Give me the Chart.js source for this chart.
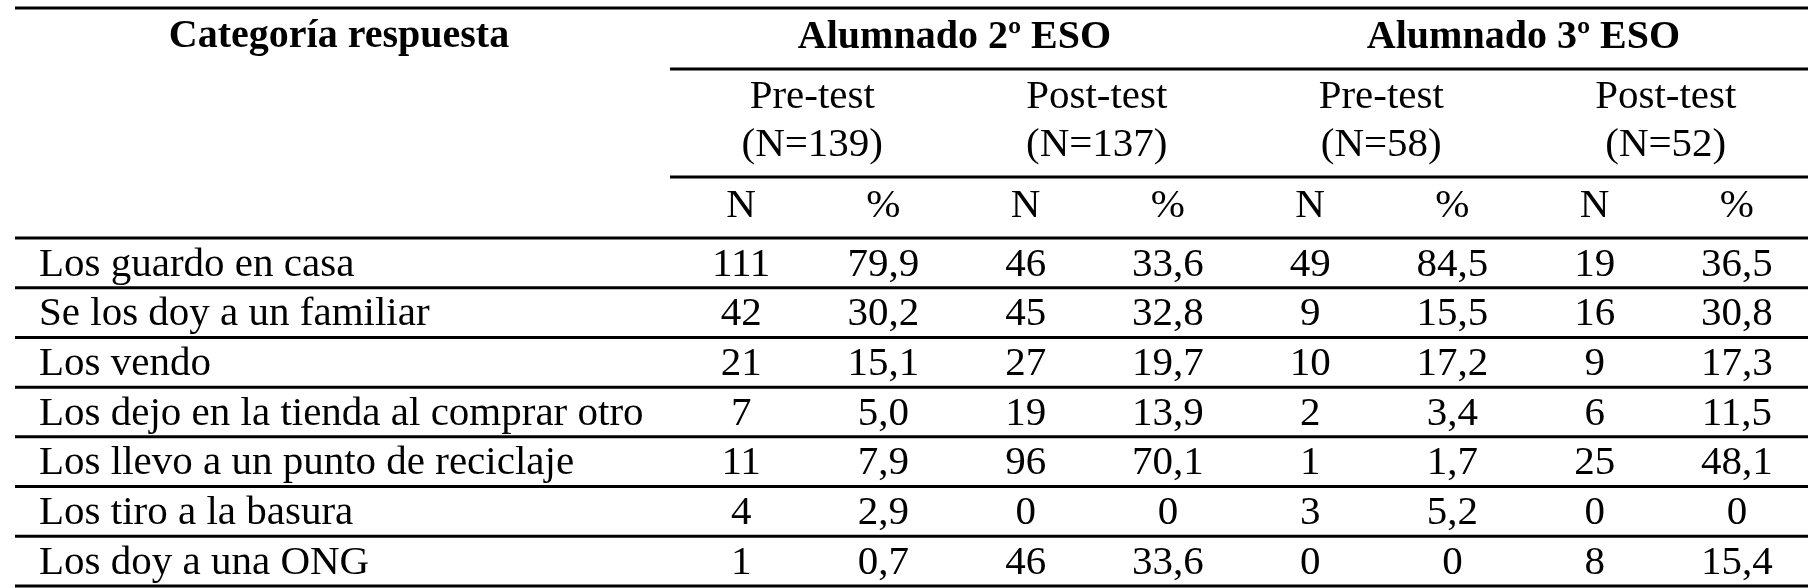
<!DOCTYPE html>
<html>
<head>
<meta charset="utf-8">
<script src="https://cdn.jsdelivr.net/npm/chart.js@4"></script>
<style>
  body { margin: 0; background: #fff; }
  #wrap { width: 1814px; height: 588px; }
</style>
</head>
<body>
<div id="wrap"><canvas id="tabla"></canvas></div>
<script>
const categorias = [
  "Los guardo en casa",
  "Se los doy a un familiar",
  "Los vendo",
  "Los dejo en la tienda al comprar otro",
  "Los llevo a un punto de reciclaje",
  "Los tiro a la basura",
  "Los doy a una ONG"
];
const grupos = ["Alumnado 2º ESO", "Alumnado 3º ESO"];
const fases = ["Pre-test", "Post-test", "Pre-test", "Post-test"];
const tamanos = ["(N=139)", "(N=137)", "(N=58)", "(N=52)"];

const pre2N = [111, 42, 21, 7, 11, 4, 1];
const pre2P = [79.9, 30.2, 15.1, 5.0, 7.9, 2.9, 0.7];
const post2N = [46, 45, 27, 19, 96, 0, 46];
const post2P = [33.6, 32.8, 19.7, 13.9, 70.1, 0, 33.6];
const pre3N = [49, 9, 10, 2, 1, 3, 0];
const pre3P = [84.5, 15.5, 17.2, 3.4, 1.7, 5.2, 0];
const post3N = [19, 16, 9, 6, 25, 0, 8];
const post3P = [36.5, 30.8, 17.3, 11.5, 48.1, 0, 15.4];

const columnas = [pre2N, pre2P, post2N, post2P, pre3N, pre3P, post3N, post3P];

const serif = '"Liberation Serif", "DejaVu Serif", serif';

function fmt(v, esPct) {
  if (!esPct || v === 0) return String(v);
  return v.toFixed(1).replace(".", ",");
}

const tablaPlugin = {
  id: "tabla",
  afterDraw(chart) {
    const ctx = chart.ctx;
    const x = chart.scales.x;
    const y = chart.scales.y;
    const area = chart.chartArea;
    const left = 15, right = 1808;
    const half = (x.getPixelForValue(1) - x.getPixelForValue(0)) / 2;
    const rowH = y.getPixelForValue(1) - y.getPixelForValue(0);

    ctx.save();
    ctx.fillStyle = "#000";
    ctx.strokeStyle = "#000";
    ctx.lineWidth = 3;
    const hline = (x1, x2, yy) => {
      ctx.beginPath(); ctx.moveTo(x1, yy); ctx.lineTo(x2, yy); ctx.stroke();
    };

    // header lines
    hline(left, right, 8);
    hline(x.getPixelForValue(0) - half, right, 69);
    hline(x.getPixelForValue(0) - half, right, 177);
    hline(left, right, area.top);

    ctx.textBaseline = "middle";
    ctx.textAlign = "center";
    ctx.font = "bold 40px " + serif;
    ctx.fillText("Categoría respuesta", 339, 37);
    grupos.forEach((g, i) => {
      const cx = (x.getPixelForValue(i * 4) + x.getPixelForValue(i * 4 + 3)) / 2;
      ctx.fillText(g, cx, 38);
    });

    ctx.font = "41px " + serif;
    fases.forEach((f, i) => {
      const cx = (x.getPixelForValue(i * 2) + x.getPixelForValue(i * 2 + 1)) / 2;
      ctx.fillText(f, cx, 97);
      ctx.fillText(tamanos[i], cx, 145);
    });
    columnas.forEach((col, j) => {
      ctx.fillText(j % 2 === 0 ? "N" : "%", x.getPixelForValue(j), 206);
    });

    // body
    categorias.forEach((c, i) => {
      const cy = y.getPixelForValue(i);
      ctx.textAlign = "left";
      ctx.fillText(c, 39, cy + 2);
      ctx.textAlign = "center";
      columnas.forEach((col, j) => {
        ctx.fillText(fmt(col[i], j % 2 === 1), x.getPixelForValue(j), cy + 2);
      });
      hline(left, right, cy + rowH / 2);
    });
    ctx.restore();
  }
};

new Chart(document.getElementById("tabla"), {
  type: "scatter",
  data: { labels: categorias, datasets: [] },
  options: {
    responsive: true,
    maintainAspectRatio: false,
    animation: false,
    layout: { padding: { left: 670, right: 6, top: 238, bottom: 2 } },
    plugins: { legend: { display: false }, tooltip: { enabled: false } },
    scales: {
      x: { type: "linear", min: -0.5, max: 7.5, display: false },
      y: { type: "category", labels: categorias, offset: true, display: false }
    }
  },
  plugins: [tablaPlugin]
});
</script>
</body>
</html>
